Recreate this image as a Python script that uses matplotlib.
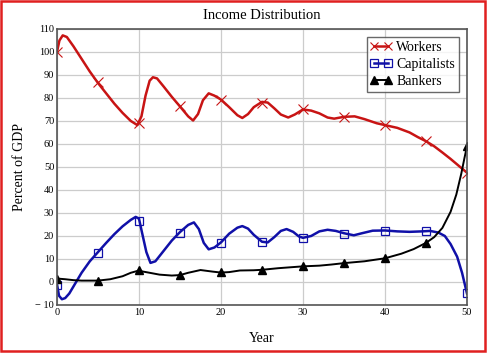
import matplotlib
matplotlib.use("Agg")
import matplotlib.pyplot as plt
from matplotlib.patches import Rectangle

plt.rcParams['font.family'] = ['Liberation Serif', 'DejaVu Serif']

# curve points (year, percent of GDP)
workers_x = [0, 0.3, 0.7, 1.2, 2, 3, 4, 5, 6, 7, 8, 9, 9.8, 10.3, 10.8, 11.3, 11.7,
             12.2, 13, 14, 15, 16, 16.6, 17.2, 17.8, 18.5, 19.2, 20, 21, 22, 22.6,
             23.3, 24, 25, 25.7, 26.5, 27.3, 28.2, 29, 30, 31, 32, 33, 33.8, 35,
             36.3, 37.5, 39, 40, 41.5, 43, 44, 45, 46, 47, 48, 49, 50]
workers_y = [100, 105, 107.2, 106.5, 102.5, 97, 91.5, 86.5, 82, 77.5, 73.5, 70, 68.2,
             72, 81, 87.5, 89, 88.5, 85, 80.5, 76.3, 72, 70.2, 73, 79, 82, 81, 79.3,
             76, 72.5, 71.3, 73, 76, 78.3, 78, 75.5, 72.8, 71.5, 72.8, 75, 74.5, 73.3,
             71.5, 71, 71.8, 72, 70.8, 69, 68.2, 67, 65, 63, 61.2, 59, 56.3, 53.5,
             50.5, 47.5]

capitalists_x = [0, 0.25, 0.6, 1, 1.5, 2, 3, 4, 5, 6, 7, 8, 9, 9.6, 10, 10.4, 10.9,
                 11.4, 12, 13, 14, 15, 16, 16.7, 17.3, 17.9, 18.5, 19.2, 20, 21, 22,
                 22.6, 23.3, 24, 25, 25.7, 26.5, 27.3, 28, 28.8, 29.5, 30, 31, 32, 33,
                 34, 35, 36.2, 37.2, 38.5, 40, 41.5, 43, 44.5, 45.5, 46.5, 47.3, 48,
                 48.8, 49.4, 50]
capitalists_y = [-1, -6, -7.5, -7, -5, -2, 4, 9, 13, 17, 20.8, 24.2, 27, 28.3, 27.5,
                 21, 13, 8.3, 9, 13.5, 18, 21.7, 24.8, 25.9, 23, 17, 14.2, 15, 17.2,
                 21, 23.6, 24.3, 23.2, 20.5, 17.5, 17.2, 19.5, 22.2, 23, 21.8, 19.8,
                 19.2, 20, 22, 22.7, 22.2, 21.2, 20.3, 21.2, 22.3, 22.4, 22, 21.8, 22,
                 22.2, 21.5, 20, 16.5, 11, 4, -5]

bankers_x = [0, 1, 2, 3, 5, 6.5, 8, 9, 9.9, 11, 12.5, 14, 15, 16, 17.5, 19, 20, 21,
             22.3, 24, 25, 27, 30, 32, 33.5, 35, 37.5, 40, 42, 43.5, 45, 46, 47, 48,
             48.7, 49.3, 49.7, 50]
bankers_y = [1.5, 1.2, 0.8, 0.6, 0.6, 1.2, 2.5, 4, 4.9, 4.2, 3.2, 2.8, 3, 4, 5.2, 4.5,
             4.1, 4.3, 5.0, 5.1, 5.3, 6, 6.8, 7.1, 7.6, 8.2, 9.0, 10.3, 12.3, 14.3, 17,
             19.5, 23.5, 30.5, 38, 47, 54, 59]

# marker values every 5 years
mark_years = [0, 5, 10, 15, 20, 25, 30, 35, 40, 45, 50]
workers_marks = [100, 87, 69, 76.4, 79.3, 78, 75, 71.7, 68.1, 61.4, 47.5]
capitalists_marks = [-1.5, 12.8, 26.5, 21.5, 17, 17.3, 19, 21, 22.3, 22, -4.8]
bankers_marks = [1.5, 0.5, 5, 3.2, 4.2, 5.3, 6.8, 8.3, 10.4, 17, 59]

fig = plt.figure(figsize=(4.9, 3.53), dpi=100)
ax = fig.add_axes([0.1163, 0.136, 0.8367, 0.782])

red = '#c81414'
blue = '#1010a8'

ax.plot(workers_x, workers_y, color=red, lw=1.8)
ax.plot(mark_years, workers_marks, ls='none', marker='x', ms=6.5, mew=0.8, color=red)
ax.plot(capitalists_x, capitalists_y, color=blue, lw=1.8)
ax.plot(mark_years, capitalists_marks, ls='none', marker='s', ms=6, mew=0.9,
        mec=blue, mfc='none')
ax.plot(bankers_x, bankers_y, color='black', lw=1.4)
ax.plot(mark_years, bankers_marks, ls='none', marker='^', ms=6, color='black')

# legend entries: line with markers at both ends
ax.plot([], [], color=red, lw=1.8, marker='x', ms=6, mew=0.8, label='Workers')
ax.plot([], [], color=blue, lw=1.8, marker='s', ms=5.5, mew=0.9, mfc='none', label='Capitalists')
ax.plot([], [], color='black', lw=1.4, marker='^', ms=5.5, label='Bankers')

ax.set_xlim(0, 50)
ax.set_ylim(-10, 110)
ax.set_xticks(range(0, 51, 10))
ax.set_yticks(range(-10, 111, 10))
ax.set_yticklabels(['\u2212 10'] + [str(v) for v in range(0, 111, 10)])
ax.tick_params(length=0, labelsize=7.5, pad=2)
ax.grid(True, color='#cccccc', lw=0.9)
ax.set_axisbelow(True)
for s in ax.spines.values():
    s.set_color('#555555')
    s.set_linewidth(1.2)

ax.set_title('Income Distribution', fontsize=10.5, pad=7)
ax.set_xlabel('Year', fontsize=10, labelpad=11)
ax.set_ylabel('Percent of GDP', fontsize=10, labelpad=7)

leg = ax.legend(loc='upper right', numpoints=2, fontsize=10, frameon=True, fancybox=False,
                borderaxespad=0.6, handlelength=1.6, handletextpad=0.3, borderpad=0.25,
                labelspacing=0.3)
leg.get_frame().set_edgecolor('#444444')
leg.get_frame().set_linewidth(1.0)

fig.patches.append(Rectangle((0.003, 0.006), 0.986, 0.99, transform=fig.transFigure,
                             fill=False, edgecolor='#e02020', lw=1.8))

fig.savefig('out.png', dpi=100)
